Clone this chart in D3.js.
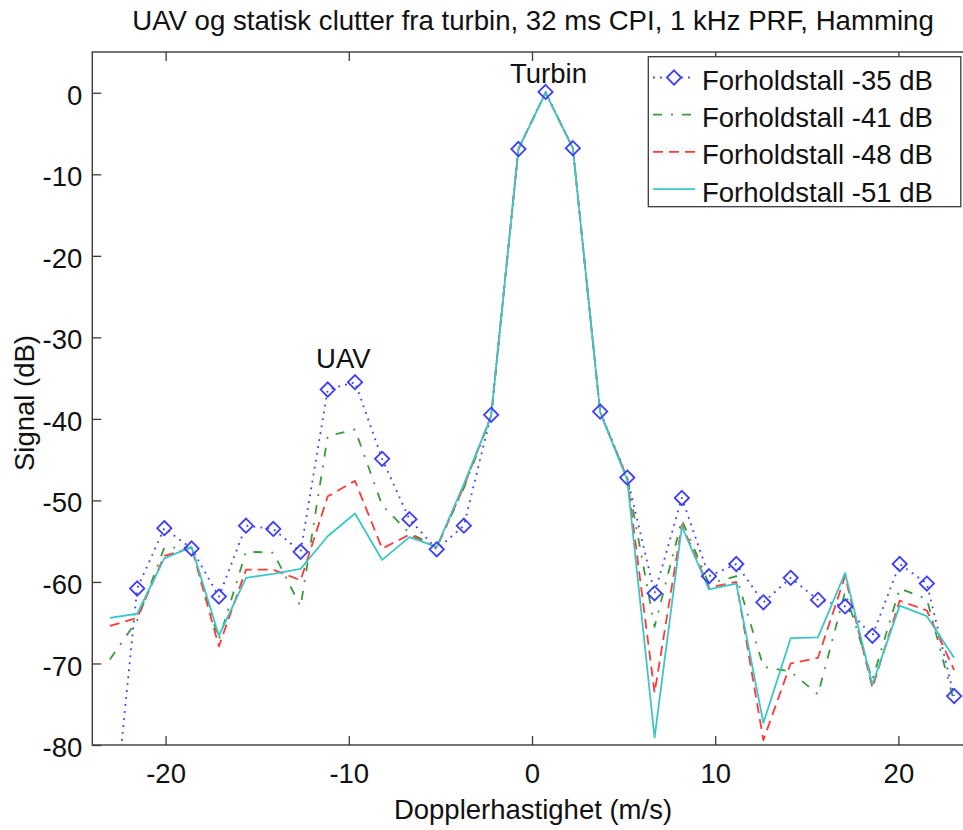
<!DOCTYPE html>
<html>
<head>
<meta charset="utf-8">
<script src="https://cdn.jsdelivr.net/npm/d3@7"></script>
<style>
  html, body { margin: 0; padding: 0; background: #fff; }
  svg { display: block; }
  text { font-family: "Liberation Sans", Arial, Helvetica, sans-serif; fill: #111; }
</style>
</head>
<body>
<svg id="chart" width="963" height="830"></svg>
<script>
// ---- data ----
const velocities = [-23.04, -21.55, -20.07, -18.58, -17.09, -15.61, -14.12, -12.63, -11.15, -9.66,
  -8.18, -6.69, -5.20, -3.72, -2.23, -0.74, 0.74, 2.23, 3.72, 5.20, 6.69, 8.18, 9.66, 11.15,
  12.63, 14.12, 15.61, 17.09, 18.58, 20.07, 21.55, 23.04];

const ratio35 = [-94, -60.8, -53.4, -55.9, -61.8, -53.1, -53.5, -56.3, -36.4, -35.5, -44.9, -52.3,
  -56.0, -53.1, -39.5, -6.9, 0.1, -6.8, -39.1, -47.2, -61.4, -49.7, -59.3, -57.8, -62.5, -59.5,
  -62.2, -63.0, -66.6, -57.8, -60.2, -74.0];
const ratio41 = [-69.5, -64.7, -55.8, -55.8, -67.1, -56.3, -56.4, -63.0, -42.1, -41.3, -50.6, -54.0,
  -55.7, -48.5, -39.7, -6.9, 0, -6.8, -39.2, -47.3, -65.5, -52.4, -60.2, -59.3, -70.4, -71.0,
  -73.8, -61.2, -72.0, -60.8, -62.1, -74.7];
const ratio48 = [-65.4, -64.4, -56.8, -55.8, -67.9, -58.5, -58.5, -59.8, -49.5, -47.6, -55.9, -54.2,
  -55.8, -48.3, -39.6, -6.9, 0, -6.8, -39.2, -47.3, -73.6, -53.0, -60.7, -60.0, -79.4, -70.0,
  -69.3, -59.3, -73.0, -62.3, -63.5, -70.8];
const ratio51 = [-64.4, -63.9, -57.1, -55.7, -66.6, -59.5, -59.0, -58.4, -54.4, -51.6, -57.3, -54.5,
  -55.7, -48.0, -39.7, -6.9, 0, -6.8, -39.2, -47.5, -79.1, -53.2, -60.9, -60.2, -77.3, -66.9,
  -66.8, -58.9, -72.6, -62.9, -64.2, -69.3];

const seriesNames = ["Forholdstall -35 dB", "Forholdstall -41 dB", "Forholdstall -48 dB", "Forholdstall -51 dB"];
const xTicks = [-20, -10, 0, 10, 20];
const yTicks = [0, -10, -20, -30, -40, -50, -60, -70, -80];
const titleText = "UAV og statisk clutter fra turbin, 32 ms CPI, 1 kHz PRF, Hamming";
const xLabel = "Dopplerhastighet (m/s)";
const yLabel = "Signal (dB)";
const annotations = [{ text: "UAV", x: -10.3, y: -33.8 }, { text: "Turbin", x: 0.9, y: 1.2 }];

// ---- styles ----
const styles = [
  { color: "#3c3cff", dash: "1.8,5.2", marker: true, width: 1.8 },
  { color: "#3a9a3a", dash: "9,9,2,9", marker: false, width: 1.8 },
  { color: "#ff3838", dash: "10,6", marker: false, width: 1.8 },
  { color: "#3cc6c6", dash: null, marker: false, width: 1.8 }
];
const allSeries = [ratio35, ratio41, ratio48, ratio51];

// ---- layout ----
const svg = d3.select("#chart");
const pLeft = 92.3, pRight = 971.7, pTop = 52, pBottom = 745;
const x = d3.scaleLinear().domain([-24, 24]).range([pLeft, pRight]);
const y = d3.scaleLinear().domain([-80, 5]).range([pBottom, pTop]);

svg.append("defs").append("clipPath").attr("id", "plotclip")
  .append("rect").attr("x", pLeft).attr("y", pTop).attr("width", pRight - pLeft).attr("height", pBottom - pTop);

const fontSize = 27.5;
const axisColor = "#3a3a3a";
const fmt = d => String(d);

// Axes (ticks inward, mirrored on top)
const xAxisB = d3.axisBottom(x).tickValues(xTicks).tickSizeInner(-9).tickSizeOuter(0).tickPadding(18).tickFormat(fmt);
const xAxisT = d3.axisTop(x).tickValues(xTicks).tickSizeInner(-9).tickSizeOuter(0).tickFormat("");
const yAxisL = d3.axisLeft(y).tickValues(yTicks).tickSizeInner(-9).tickSizeOuter(0).tickPadding(10).tickFormat(fmt);

function styleAxis(g) {
  g.select(".domain").remove();
  g.selectAll(".tick line").attr("stroke", axisColor).attr("stroke-width", 1.3);
  g.selectAll(".tick text").style("font-size", fontSize + "px").attr("fill", "#111")
    .style("font-family", "'Liberation Sans', Arial, sans-serif");
}
svg.append("g").attr("transform", `translate(0,${pBottom})`).call(xAxisB).call(styleAxis);
svg.append("g").attr("transform", `translate(0,${pTop})`).call(xAxisT).call(styleAxis);
svg.append("g").attr("transform", `translate(${pLeft},0)`).call(yAxisL).call(styleAxis)
  .selectAll(".tick text").attr("dy", "0.42em");

// axis box
svg.append("rect").attr("x", pLeft).attr("y", pTop).attr("width", pRight - pLeft).attr("height", pBottom - pTop)
  .attr("fill", "none").attr("stroke", axisColor).attr("stroke-width", 1.4);

// lines
const plot = svg.append("g").attr("clip-path", "url(#plotclip)");
const line = d3.line().x((d, i) => x(velocities[i])).y(d => y(d));
allSeries.forEach((vals, k) => {
  const st = styles[k];
  plot.append("path").datum(vals).attr("d", line).attr("fill", "none")
    .attr("stroke", st.color).attr("stroke-width", st.width)
    .attr("stroke-dasharray", st.dash).attr("stroke-linejoin", "round");
});
// markers for series 1
const diamond = d3.symbol().type(d3.symbolDiamond2).size(130);
plot.selectAll(".mk").data(ratio35).join("path").attr("class", "mk")
  .attr("d", diamond)
  .attr("transform", (d, i) => `translate(${x(velocities[i])},${y(d)})`)
  .attr("fill", "none").attr("stroke", styles[0].color).attr("stroke-width", 1.8);

// annotations
annotations.forEach(a => {
  svg.append("text").attr("x", x(a.x)).attr("y", y(a.y)).attr("text-anchor", "middle")
    .style("font-size", fontSize + "px").text(a.text);
});

// title & labels
svg.append("text").attr("x", 533).attr("y", 30).attr("text-anchor", "middle")
  .style("font-size", "27.6px").text(titleText);
svg.append("text").attr("x", 533).attr("y", 819).attr("text-anchor", "middle")
  .style("font-size", fontSize + "px").text(xLabel);
svg.append("text").attr("transform", "translate(34,403) rotate(-90)").attr("text-anchor", "middle")
  .style("font-size", fontSize + "px").text(yLabel);

// legend
const lg = svg.append("g");
lg.append("rect").attr("x", 648.3).attr("y", 56.7).attr("width", 312.5).attr("height", 150)
  .attr("fill", "#fff").attr("stroke", axisColor).attr("stroke-width", 1.3);
seriesNames.forEach((name, k) => {
  const st = styles[k];
  const cy = 77.5 + k * 37.2;
  lg.append("line").attr("x1", 653).attr("x2", 695).attr("y1", cy).attr("y2", cy)
    .attr("stroke", st.color).attr("stroke-width", st.width).attr("stroke-dasharray", st.dash);
  if (st.marker) {
    lg.append("path").attr("d", diamond).attr("transform", `translate(674,${cy})`)
      .attr("fill", "#fff").attr("stroke", st.color).attr("stroke-width", 1.8);
  }
  lg.append("text").attr("x", 702).attr("y", cy + 12.5).style("font-size", fontSize + "px").text(name);
});
</script>
</body>
</html>
